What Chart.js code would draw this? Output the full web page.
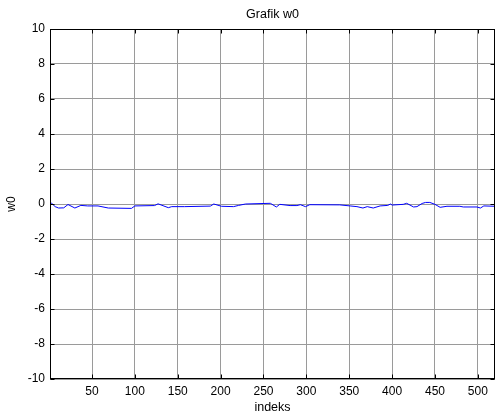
<!DOCTYPE html>
<html lang="id">
<head>
<meta charset="UTF-8">
<title>Grafik w0</title>
<script src="https://cdn.jsdelivr.net/npm/chart.js"></script>
<style>
  html, body { margin: 0; padding: 0; background: #fff; }
  #wrap { width: 495px; height: 414px; }
</style>
</head>
<body>
<div id="wrap"><canvas id="w0Chart" width="495" height="414"></canvas></div>
<script>
// values (index, w0)
const indeks = [1, 3, 7, 11, 17, 22, 30, 37, 45, 57, 69, 96, 100, 123, 127, 139, 143, 158, 188, 192,
  201, 215, 221, 229, 258, 265, 269, 281, 289, 293, 299, 304, 339, 351, 359, 366, 371, 378, 386, 395,
  398, 400, 413, 417, 425, 429, 435, 439, 444, 450, 456, 464, 479, 483, 499, 503, 507, 520];
const w0 = [0.04, 0.04, -0.15, -0.23, -0.22, -0.03, -0.23, -0.08, -0.11, -0.11, -0.23, -0.25, -0.11, -0.09, 0.01, -0.21, -0.15, -0.15, -0.12, 0.0,
  -0.13, -0.15, -0.08, 0.0, 0.04, -0.17, -0.02, -0.09, -0.09, -0.04, -0.15, -0.04, -0.05, -0.11, -0.15, -0.23, -0.15, -0.23, -0.11, -0.08,
  0.0, -0.06, -0.02, 0.04, -0.17, -0.15, 0.03, 0.09, 0.09, -0.02, -0.19, -0.13, -0.13, -0.17, -0.17, -0.23, -0.11, -0.13];
const xTicks = [50, 100, 150, 200, 250, 300, 350, 400, 450, 500];
const yTicks = [-10, -8, -6, -4, -2, 0, 2, 4, 6, 8, 10];
const judul = 'Grafik w0';

const fontFam = "'Liberation Sans', Arial, sans-serif";

// matlab-ish box with inward ticks, title centred over the axes
const boxPlugin = {
  id: 'box',
  afterDraw(chart) {
    const { ctx, chartArea: a, scales } = chart;
    const L = Math.round(a.left) + 0.5, R = Math.round(a.right) - 0.5;
    const T = Math.round(a.top) + 0.5, B = Math.round(a.bottom) - 0.5;
    ctx.save();
    ctx.strokeStyle = '#000';
    ctx.lineWidth = 1;
    ctx.beginPath();
    xTicks.forEach(v => {
      const x = Math.round(scales.x.getPixelForValue(v)) + 0.5;
      ctx.moveTo(x, B); ctx.lineTo(x, B - 4);
      ctx.moveTo(x, T); ctx.lineTo(x, T + 4);
    });
    yTicks.forEach(v => {
      const y = Math.round(scales.y.getPixelForValue(v)) + 0.5;
      ctx.moveTo(L, y); ctx.lineTo(L + 4, y);
      ctx.moveTo(R, y); ctx.lineTo(R - 4, y);
    });
    ctx.stroke();
    ctx.strokeRect(L, T, R - L, B - T);

    ctx.fillStyle = '#000';
    ctx.font = '12.5px ' + fontFam;
    ctx.textAlign = 'center';
    ctx.textBaseline = 'middle';
    ctx.fillText(judul, (a.left + a.right) / 2, 14.5);
    ctx.restore();
  }
};

new Chart(document.getElementById('w0Chart'), {
  type: 'line',
  data: {
    datasets: [{
      data: indeks.map((x, i) => ({ x: x, y: w0[i] })),
      borderColor: '#0000ff',
      borderWidth: 1,
      pointRadius: 0,
      tension: 0
    }]
  },
  options: {
    responsive: false,
    animation: false,
    layout: { padding: { top: 29, left: 0, right: 0, bottom: 0 } },
    plugins: {
      legend: { display: false },
      tooltip: { enabled: false },
      title: { display: false }
    },
    scales: {
      x: {
        type: 'linear',
        min: 1,
        max: 520,
        afterBuildTicks: s => { s.ticks = xTicks.map(v => ({ value: v })); },
        afterFit: s => { s.height = 35; },
        grid: { color: '#9a9a9a', drawTicks: false },
        border: { display: false },
        ticks: { color: '#000', padding: 5, maxRotation: 0, font: { family: fontFam, size: 12 } },
        title: { display: true, text: 'indeks', color: '#000', padding: 0, font: { family: fontFam, size: 12.5, lineHeight: 1 } }
      },
      y: {
        min: -10,
        max: 10,
        afterBuildTicks: s => { s.ticks = yTicks.map(v => ({ value: v })); },
        afterFit: s => { s.width = 50; },
        grid: { color: '#9a9a9a', drawTicks: false },
        border: { display: false },
        ticks: { color: '#000', padding: 5, font: { family: fontFam, size: 12 } },
        title: { display: true, text: 'w0', color: '#000', padding: { top: 4, bottom: 0 }, font: { family: fontFam, size: 12 } }
      }
    }
  },
  plugins: [boxPlugin]
});
</script>
</body>
</html>
